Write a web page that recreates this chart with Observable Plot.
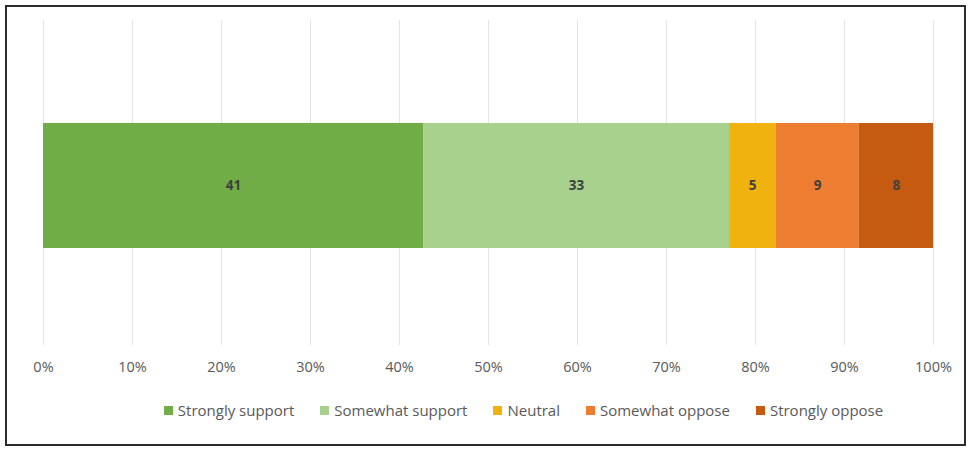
<!DOCTYPE html>
<html>
<head>
<meta charset="utf-8">
<script src="https://cdn.jsdelivr.net/npm/d3@7"></script>
<script src="https://cdn.jsdelivr.net/npm/@observablehq/plot@0.6"></script>
<style>
  html, body { margin: 0; padding: 0; background: #fff; }
  #frame {
    position: absolute; left: 5px; top: 5px;
    width: 957px; height: 437px;
    border: 2px solid #2b2b2b;
    background: #fff;
  }
  #chart { position: absolute; left: 1px; top: 1px; }
  #legend {
    position: absolute; left: 0; top: 393px; width: 957px;
    display: flex; justify-content: center; padding-left: 76px; box-sizing: border-box;
    font-family: "Open Sans", sans-serif; font-size: 15px; color: #595959;
  }
  .item { display: flex; align-items: center; margin: 0 13px; }
  .sw { width: 9px; height: 9px; margin-right: 5px; }
</style>
</head>
<body>
<div id="frame">
  <div id="chart"></div>
  <div id="legend"></div>
</div>
<script>
const categories = ["Strongly support", "Somewhat support", "Neutral", "Somewhat oppose", "Strongly oppose"];
const values = [41, 33, 5, 9, 8];
const colors = ["#70AD47", "#A9D18E", "#F0B20E", "#ED7D31", "#C55A11"];
const tickValues = [0, 0.1, 0.2, 0.3, 0.4, 0.5, 0.6, 0.7, 0.8, 0.9, 1.0];

const data = categories.map((c, i) => ({category: c, value: values[i]}));

const plot = Plot.plot({
  width: 955,
  height: 375,
  marginLeft: 35,
  marginRight: 30,
  marginTop: 12,
  marginBottom: 38,
  style: {fontFamily: "'Open Sans', sans-serif", fontSize: "14.5px", color: "#595959", background: "transparent"},
  x: {domain: [0, 1], ticks: tickValues, tickFormat: d => Math.round(d * 100) + "%", label: null, tickSize: 0, tickPadding: 16},
  color: {domain: categories, range: colors},
  marks: [
    Plot.ruleX(tickValues, {stroke: "#e4e4e4", strokeWidth: 1}),
    Plot.barX(data, Plot.stackX({x: "value", fill: "category", offset: "normalize", insetTop: 103, insetBottom: 97, order: null})),
    Plot.text(data, Plot.stackX({x: "value", text: d => String(d.value), offset: "normalize", order: null, fill: "#404040", fontWeight: "bold", fontSize: 13.5, dy: 3, frameAnchor: "middle"})),
    Plot.axisX({ticks: tickValues, tickFormat: d => Math.round(d * 100) + "%", tickSize: 0, tickPadding: 16, label: null, fill: "#595959"})
  ]
});
document.getElementById("chart").appendChild(plot);

const legend = document.getElementById("legend");
categories.forEach((c, i) => {
  const item = document.createElement("div");
  item.className = "item";
  const sw = document.createElement("span");
  sw.className = "sw";
  sw.style.background = colors[i];
  const t = document.createElement("span");
  t.textContent = c;
  item.appendChild(sw);
  item.appendChild(t);
  legend.appendChild(item);
});
</script>
</body>
</html>
